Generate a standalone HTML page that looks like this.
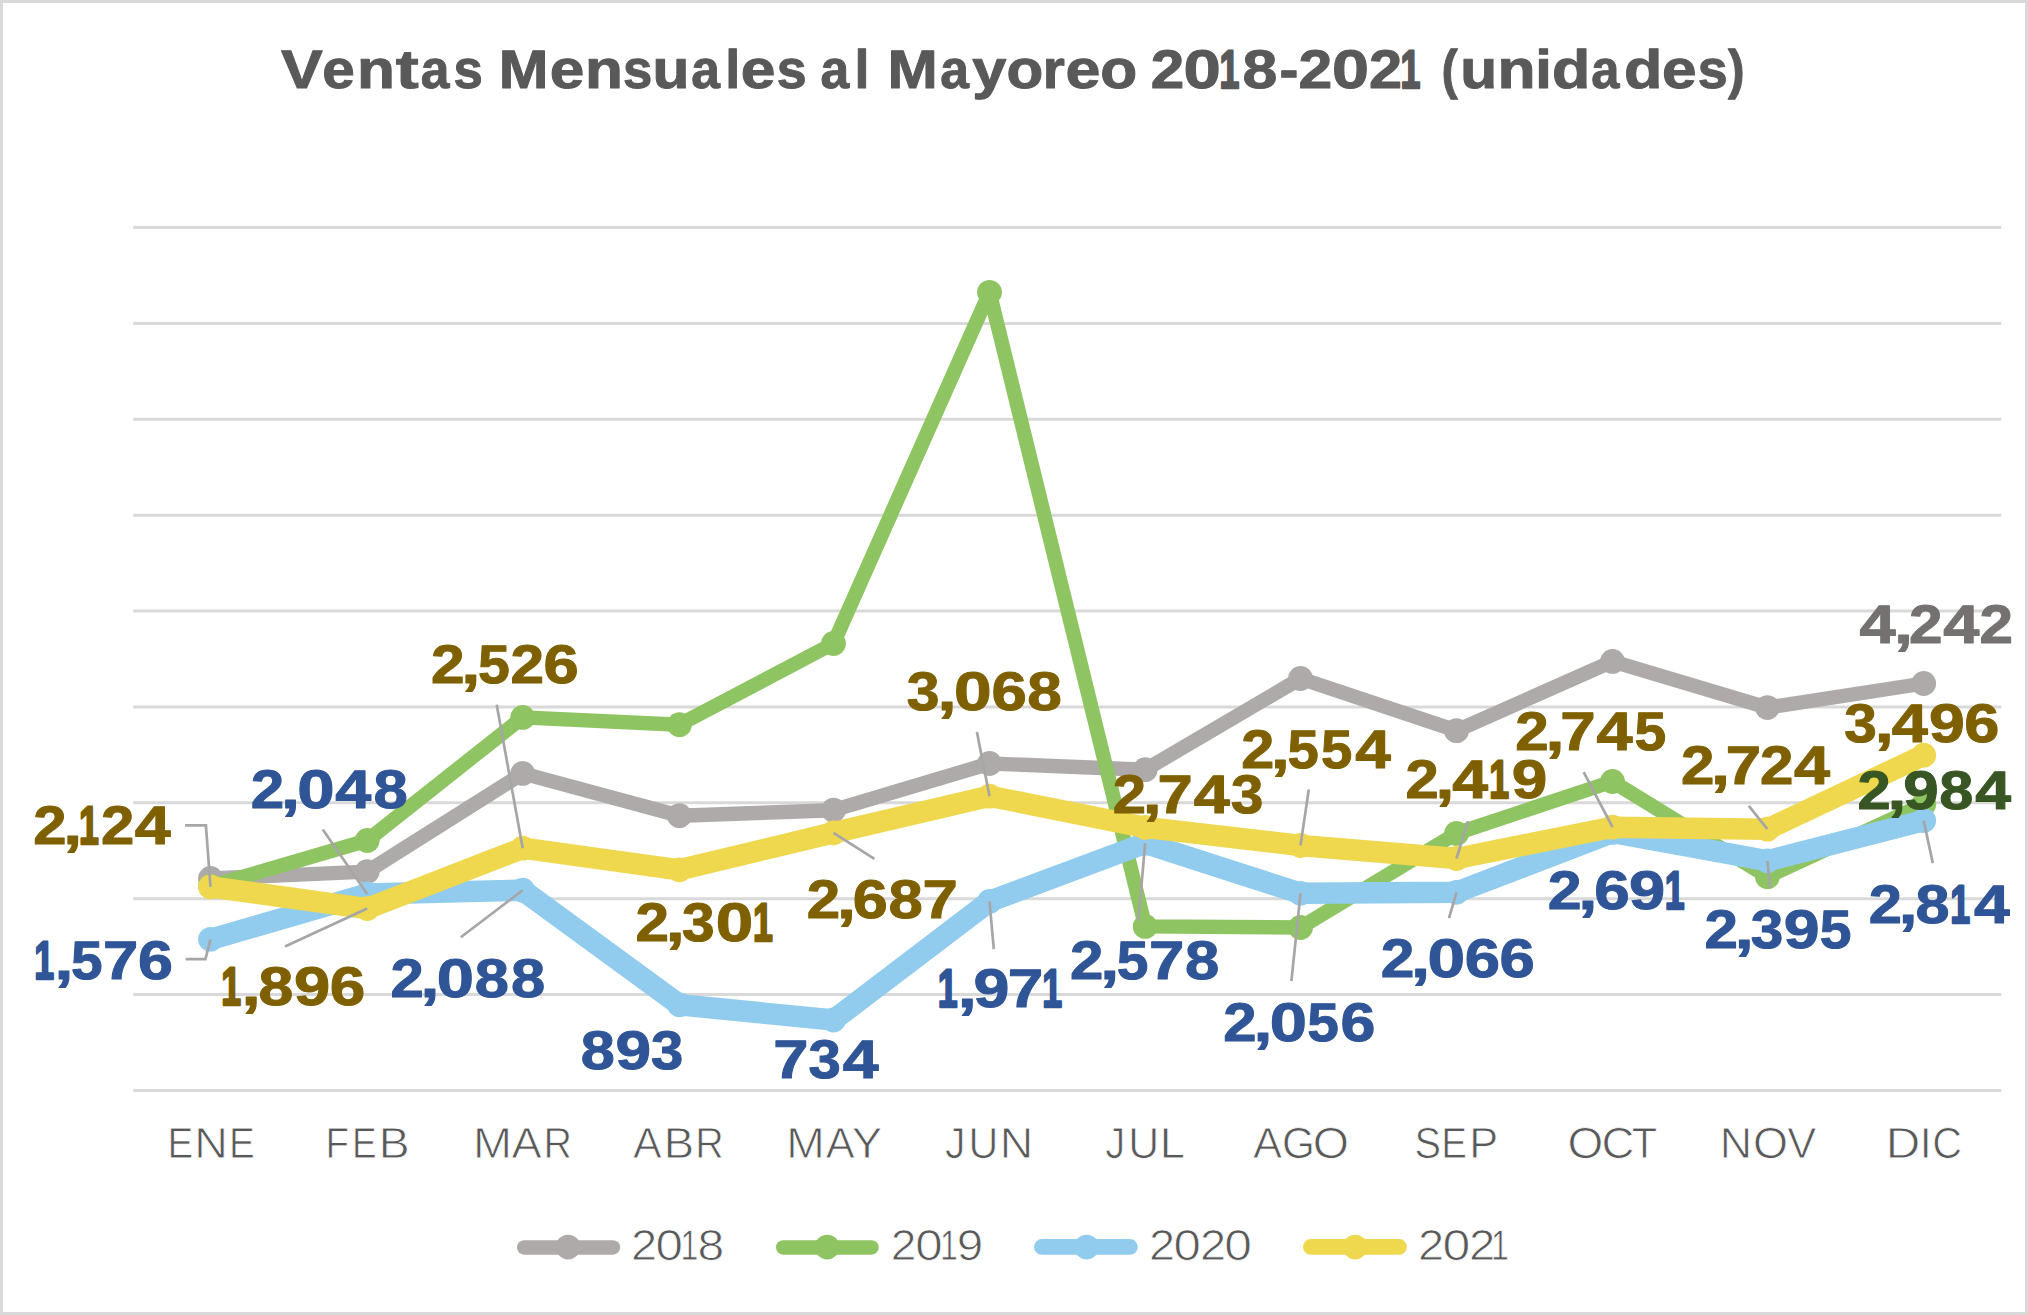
<!DOCTYPE html>
<html lang="es"><head><meta charset="utf-8"><title>Ventas Mensuales al Mayoreo 2018-2021 (unidades)</title>
<style>html,body{margin:0;padding:0;background:#fff}body{width:2028px;height:1315px;overflow:hidden}svg{display:block}text{font-family:"Liberation Sans",sans-serif;text-rendering:geometricPrecision}.b{font-weight:bold}</style>
</head><body>
<svg width="2028" height="1315" viewBox="0 0 2028 1315">
<rect x="0" y="0" width="2028" height="1315" fill="#fff"/>
<rect x="1.5" y="1.5" width="2025" height="1312" fill="none" stroke="#D9D9D9" stroke-width="3"/>
<line x1="133.3" y1="227.50" x2="2001.3" y2="227.50" stroke="#D9D9D9" stroke-width="3"/>
<line x1="133.3" y1="323.38" x2="2001.3" y2="323.38" stroke="#D9D9D9" stroke-width="3"/>
<line x1="133.3" y1="419.26" x2="2001.3" y2="419.26" stroke="#D9D9D9" stroke-width="3"/>
<line x1="133.3" y1="515.14" x2="2001.3" y2="515.14" stroke="#D9D9D9" stroke-width="3"/>
<line x1="133.3" y1="611.02" x2="2001.3" y2="611.02" stroke="#D9D9D9" stroke-width="3"/>
<line x1="133.3" y1="706.90" x2="2001.3" y2="706.90" stroke="#D9D9D9" stroke-width="3"/>
<line x1="133.3" y1="802.78" x2="2001.3" y2="802.78" stroke="#D9D9D9" stroke-width="3"/>
<line x1="133.3" y1="898.66" x2="2001.3" y2="898.66" stroke="#D9D9D9" stroke-width="3"/>
<line x1="133.3" y1="994.54" x2="2001.3" y2="994.54" stroke="#D9D9D9" stroke-width="3"/>
<line x1="133.3" y1="1090.42" x2="2001.3" y2="1090.42" stroke="#D9D9D9" stroke-width="3"/>
<polyline points="210.5,878.5 367.2,871.6 522.7,773.4 679.4,815.7 833.5,810.2 989.5,763.5 1145.2,769.7 1300.5,678.5 1456.5,730.7 1612.5,661.4 1767.4,707.6 1923.7,683.5" fill="none" stroke="#AEAAAA" stroke-width="14.4" stroke-linejoin="round" stroke-linecap="round"/>
<circle cx="210.5" cy="878.5" r="12.4" fill="#AEAAAA"/>
<circle cx="367.2" cy="871.6" r="12.4" fill="#AEAAAA"/>
<circle cx="522.7" cy="773.4" r="12.4" fill="#AEAAAA"/>
<circle cx="679.4" cy="815.7" r="12.4" fill="#AEAAAA"/>
<circle cx="833.5" cy="810.2" r="12.4" fill="#AEAAAA"/>
<circle cx="989.5" cy="763.5" r="12.4" fill="#AEAAAA"/>
<circle cx="1145.2" cy="769.7" r="12.4" fill="#AEAAAA"/>
<circle cx="1300.5" cy="678.5" r="12.4" fill="#AEAAAA"/>
<circle cx="1456.5" cy="730.7" r="12.4" fill="#AEAAAA"/>
<circle cx="1612.5" cy="661.4" r="12.4" fill="#AEAAAA"/>
<circle cx="1767.4" cy="707.6" r="12.4" fill="#AEAAAA"/>
<circle cx="1923.7" cy="683.5" r="12.4" fill="#AEAAAA"/>
<polyline points="210.5,886.2 367.2,840.5 522.7,717.4 679.4,724.7 833.5,643.5 989.5,292.3 1145.2,926.4 1300.5,927.5 1456.5,833.4 1612.5,781.5 1767.4,876.7 1923.7,804.3" fill="none" stroke="#8EC461" stroke-width="14.4" stroke-linejoin="round" stroke-linecap="round"/>
<circle cx="210.5" cy="886.2" r="12.4" fill="#8EC461"/>
<circle cx="367.2" cy="840.5" r="12.4" fill="#8EC461"/>
<circle cx="522.7" cy="717.4" r="12.4" fill="#8EC461"/>
<circle cx="679.4" cy="724.7" r="12.4" fill="#8EC461"/>
<circle cx="833.5" cy="643.5" r="12.4" fill="#8EC461"/>
<circle cx="989.5" cy="292.3" r="12.4" fill="#8EC461"/>
<circle cx="1145.2" cy="926.4" r="12.4" fill="#8EC461"/>
<circle cx="1300.5" cy="927.5" r="12.4" fill="#8EC461"/>
<circle cx="1456.5" cy="833.4" r="12.4" fill="#8EC461"/>
<circle cx="1612.5" cy="781.5" r="12.4" fill="#8EC461"/>
<circle cx="1767.4" cy="876.7" r="12.4" fill="#8EC461"/>
<circle cx="1923.7" cy="804.3" r="12.4" fill="#8EC461"/>
<polyline points="210.5,939.3 367.2,894.0 522.7,890.2 679.4,1004.8 833.5,1020.0 989.5,901.4 1145.2,843.2 1300.5,893.3 1456.5,892.3 1612.5,832.4 1767.4,860.8 1923.7,820.6" fill="none" stroke="#91CCEF" stroke-width="21.5" stroke-linejoin="round" stroke-linecap="round"/>
<circle cx="210.5" cy="939.3" r="12.4" fill="#91CCEF"/>
<circle cx="367.2" cy="894.0" r="12.4" fill="#91CCEF"/>
<circle cx="522.7" cy="890.2" r="12.4" fill="#91CCEF"/>
<circle cx="679.4" cy="1004.8" r="12.4" fill="#91CCEF"/>
<circle cx="833.5" cy="1020.0" r="12.4" fill="#91CCEF"/>
<circle cx="989.5" cy="901.4" r="12.4" fill="#91CCEF"/>
<circle cx="1145.2" cy="843.2" r="12.4" fill="#91CCEF"/>
<circle cx="1300.5" cy="893.3" r="12.4" fill="#91CCEF"/>
<circle cx="1456.5" cy="892.3" r="12.4" fill="#91CCEF"/>
<circle cx="1612.5" cy="832.4" r="12.4" fill="#91CCEF"/>
<circle cx="1767.4" cy="860.8" r="12.4" fill="#91CCEF"/>
<circle cx="1923.7" cy="820.6" r="12.4" fill="#91CCEF"/>
<polyline points="210.5,886.8 367.2,908.6 522.7,848.2 679.4,869.8 833.5,832.8 989.5,796.2 1145.2,827.4 1300.5,845.5 1456.5,858.5 1612.5,827.2 1767.4,829.2 1923.7,755.2" fill="none" stroke="#EFD84E" stroke-width="21.5" stroke-linejoin="round" stroke-linecap="round"/>
<circle cx="210.5" cy="886.8" r="12.4" fill="#EFD84E"/>
<circle cx="367.2" cy="908.6" r="12.4" fill="#EFD84E"/>
<circle cx="522.7" cy="848.2" r="12.4" fill="#EFD84E"/>
<circle cx="679.4" cy="869.8" r="12.4" fill="#EFD84E"/>
<circle cx="833.5" cy="832.8" r="12.4" fill="#EFD84E"/>
<circle cx="989.5" cy="796.2" r="12.4" fill="#EFD84E"/>
<circle cx="1145.2" cy="827.4" r="12.4" fill="#EFD84E"/>
<circle cx="1300.5" cy="845.5" r="12.4" fill="#EFD84E"/>
<circle cx="1456.5" cy="858.5" r="12.4" fill="#EFD84E"/>
<circle cx="1612.5" cy="827.2" r="12.4" fill="#EFD84E"/>
<circle cx="1767.4" cy="829.2" r="12.4" fill="#EFD84E"/>
<circle cx="1923.7" cy="755.2" r="12.4" fill="#EFD84E"/>
<polyline points="185.1,825.3 205.9,825.3 210.5,886.8" fill="none" stroke="#A6A6A6" stroke-width="2.7"/>
<polyline points="185.6,959.2 205.4,959.2 210.5,939.3" fill="none" stroke="#A6A6A6" stroke-width="2.7"/>
<polyline points="322.8,829.5 367.2,894.0" fill="none" stroke="#A6A6A6" stroke-width="2.7"/>
<polyline points="285.0,946.4 367.2,908.6" fill="none" stroke="#A6A6A6" stroke-width="2.7"/>
<polyline points="496.7,704.8 522.7,848.2" fill="none" stroke="#A6A6A6" stroke-width="2.7"/>
<polyline points="460.8,937.3 522.7,890.2" fill="none" stroke="#A6A6A6" stroke-width="2.7"/>
<polyline points="874.4,858.8 833.5,832.8" fill="none" stroke="#A6A6A6" stroke-width="2.7"/>
<polyline points="976.9,731.9 989.5,796.2" fill="none" stroke="#A6A6A6" stroke-width="2.7"/>
<polyline points="993.8,949.2 989.5,901.4" fill="none" stroke="#A6A6A6" stroke-width="2.7"/>
<polyline points="1138.3,921.0 1145.2,843.2" fill="none" stroke="#A6A6A6" stroke-width="2.7"/>
<polyline points="1308.8,789.5 1300.5,845.5" fill="none" stroke="#A6A6A6" stroke-width="2.7"/>
<polyline points="1291.4,981.1 1300.5,893.3" fill="none" stroke="#A6A6A6" stroke-width="2.7"/>
<polyline points="1468.0,821.1 1456.5,858.5" fill="none" stroke="#A6A6A6" stroke-width="2.7"/>
<polyline points="1449.0,918.1 1456.5,892.3" fill="none" stroke="#A6A6A6" stroke-width="2.7"/>
<polyline points="1583.7,772.2 1612.5,827.2" fill="none" stroke="#A6A6A6" stroke-width="2.7"/>
<polyline points="1748.8,805.8 1767.4,829.2" fill="none" stroke="#A6A6A6" stroke-width="2.7"/>
<polyline points="1770.3,887.8 1767.4,860.8" fill="none" stroke="#A6A6A6" stroke-width="2.7"/>
<polyline points="1932.8,863.1 1923.7,820.6" fill="none" stroke="#A6A6A6" stroke-width="2.7"/>
<text class="b" y="844" font-size="54.3" fill="#7F6000" stroke="#7F6000" stroke-width="1" stroke-linejoin="round"><tspan x="33.22" textLength="33.31" lengthAdjust="spacingAndGlyphs">2</tspan><tspan x="63.31" textLength="18.85" lengthAdjust="spacingAndGlyphs">,</tspan><tspan x="79.08" textLength="19.84" lengthAdjust="spacingAndGlyphs" stroke-width="2.4">1</tspan><tspan x="100.93" textLength="33.31" lengthAdjust="spacingAndGlyphs">2</tspan><tspan x="134.74" textLength="35.91" lengthAdjust="spacingAndGlyphs">4</tspan></text>
<text class="b" y="808" font-size="54.3" fill="#2F5597" stroke="#2F5597" stroke-width="1" stroke-linejoin="round"><tspan x="250.72" textLength="33.44" lengthAdjust="spacingAndGlyphs">2</tspan><tspan x="280.91" textLength="18.92" lengthAdjust="spacingAndGlyphs">,</tspan><tspan x="297.20" textLength="37.34" lengthAdjust="spacingAndGlyphs">0</tspan><tspan x="335.39" textLength="36.04" lengthAdjust="spacingAndGlyphs">4</tspan><tspan x="373.61" textLength="34.29" lengthAdjust="spacingAndGlyphs">8</tspan></text>
<text class="b" y="683" font-size="54.3" fill="#7F6000" stroke="#7F6000" stroke-width="1" stroke-linejoin="round"><tspan x="431.01" textLength="33.60" lengthAdjust="spacingAndGlyphs">2</tspan><tspan x="461.34" textLength="19.02" lengthAdjust="spacingAndGlyphs">,</tspan><tspan x="477.97" textLength="31.84" lengthAdjust="spacingAndGlyphs">5</tspan><tspan x="510.63" textLength="33.60" lengthAdjust="spacingAndGlyphs">2</tspan><tspan x="543.59" textLength="35.19" lengthAdjust="spacingAndGlyphs">6</tspan></text>
<text class="b" y="979" font-size="54.3" fill="#2F5597" stroke="#2F5597" stroke-width="1" stroke-linejoin="round"><tspan x="34.29" textLength="19.84" lengthAdjust="spacingAndGlyphs" stroke-width="2.4">1</tspan><tspan x="54.41" textLength="18.87" lengthAdjust="spacingAndGlyphs">,</tspan><tspan x="70.91" textLength="31.60" lengthAdjust="spacingAndGlyphs">5</tspan><tspan x="103.08" textLength="35.28" lengthAdjust="spacingAndGlyphs">7</tspan><tspan x="138.14" textLength="34.93" lengthAdjust="spacingAndGlyphs">6</tspan></text>
<text class="b" y="1005" font-size="54.3" fill="#7F6000" stroke="#7F6000" stroke-width="1" stroke-linejoin="round"><tspan x="221.23" textLength="19.84" lengthAdjust="spacingAndGlyphs" stroke-width="2.4">1</tspan><tspan x="241.51" textLength="19.21" lengthAdjust="spacingAndGlyphs">,</tspan><tspan x="258.64" textLength="34.78" lengthAdjust="spacingAndGlyphs">8</tspan><tspan x="294.07" textLength="36.25" lengthAdjust="spacingAndGlyphs">9</tspan><tspan x="329.79" textLength="35.52" lengthAdjust="spacingAndGlyphs">6</tspan></text>
<text class="b" y="997" font-size="54.3" fill="#2F5597" stroke="#2F5597" stroke-width="1" stroke-linejoin="round"><tspan x="390.42" textLength="33.34" lengthAdjust="spacingAndGlyphs">2</tspan><tspan x="420.53" textLength="18.87" lengthAdjust="spacingAndGlyphs">,</tspan><tspan x="436.78" textLength="37.23" lengthAdjust="spacingAndGlyphs">0</tspan><tspan x="474.78" textLength="34.19" lengthAdjust="spacingAndGlyphs">8</tspan><tspan x="510.90" textLength="34.19" lengthAdjust="spacingAndGlyphs">8</tspan></text>
<text class="b" y="1069" font-size="54.3" fill="#2F5597" stroke="#2F5597" stroke-width="1" stroke-linejoin="round"><tspan x="580.75" textLength="34.08" lengthAdjust="spacingAndGlyphs">8</tspan><tspan x="615.50" textLength="35.53" lengthAdjust="spacingAndGlyphs">9</tspan><tspan x="650.90" textLength="32.30" lengthAdjust="spacingAndGlyphs">3</tspan></text>
<text class="b" y="941" font-size="54.3" fill="#7F6000" stroke="#7F6000" stroke-width="1" stroke-linejoin="round"><tspan x="635.51" textLength="33.54" lengthAdjust="spacingAndGlyphs">2</tspan><tspan x="665.79" textLength="18.98" lengthAdjust="spacingAndGlyphs">,</tspan><tspan x="682.05" textLength="32.59" lengthAdjust="spacingAndGlyphs">3</tspan><tspan x="715.76" textLength="37.45" lengthAdjust="spacingAndGlyphs">0</tspan><tspan x="752.97" textLength="19.84" lengthAdjust="spacingAndGlyphs" stroke-width="2.4">1</tspan></text>
<text class="b" y="918" font-size="54.3" fill="#7F6000" stroke="#7F6000" stroke-width="1" stroke-linejoin="round"><tspan x="806.82" textLength="33.43" lengthAdjust="spacingAndGlyphs">2</tspan><tspan x="837.00" textLength="18.92" lengthAdjust="spacingAndGlyphs">,</tspan><tspan x="852.84" textLength="35.01" lengthAdjust="spacingAndGlyphs">6</tspan><tspan x="888.40" textLength="34.28" lengthAdjust="spacingAndGlyphs">8</tspan><tspan x="922.44" textLength="35.36" lengthAdjust="spacingAndGlyphs">7</tspan></text>
<text class="b" y="710" font-size="54.3" fill="#7F6000" stroke="#7F6000" stroke-width="1" stroke-linejoin="round"><tspan x="906.85" textLength="32.76" lengthAdjust="spacingAndGlyphs">3</tspan><tspan x="937.63" textLength="19.09" lengthAdjust="spacingAndGlyphs">,</tspan><tspan x="954.05" textLength="37.64" lengthAdjust="spacingAndGlyphs">0</tspan><tspan x="991.40" textLength="35.30" lengthAdjust="spacingAndGlyphs">6</tspan><tspan x="1027.24" textLength="34.57" lengthAdjust="spacingAndGlyphs">8</tspan></text>
<text class="b" y="1078" font-size="54.3" fill="#2F5597" stroke="#2F5597" stroke-width="1" stroke-linejoin="round"><tspan x="773.28" textLength="35.20" lengthAdjust="spacingAndGlyphs">7</tspan><tspan x="808.64" textLength="32.35" lengthAdjust="spacingAndGlyphs">3</tspan><tspan x="842.77" textLength="35.88" lengthAdjust="spacingAndGlyphs">4</tspan></text>
<text class="b" y="1007" font-size="54.3" fill="#2F5597" stroke="#2F5597" stroke-width="1" stroke-linejoin="round"><tspan x="937.65" textLength="19.84" lengthAdjust="spacingAndGlyphs" stroke-width="2.4">1</tspan><tspan x="957.84" textLength="19.01" lengthAdjust="spacingAndGlyphs">,</tspan><tspan x="973.53" textLength="35.91" lengthAdjust="spacingAndGlyphs">9</tspan><tspan x="1007.80" textLength="35.53" lengthAdjust="spacingAndGlyphs">7</tspan><tspan x="1042.26" textLength="19.84" lengthAdjust="spacingAndGlyphs" stroke-width="2.4">1</tspan></text>
<text class="b" y="979" font-size="54.3" fill="#2F5597" stroke="#2F5597" stroke-width="1" stroke-linejoin="round"><tspan x="1070.02" textLength="33.41" lengthAdjust="spacingAndGlyphs">2</tspan><tspan x="1100.19" textLength="18.91" lengthAdjust="spacingAndGlyphs">,</tspan><tspan x="1116.73" textLength="31.67" lengthAdjust="spacingAndGlyphs">5</tspan><tspan x="1148.96" textLength="35.34" lengthAdjust="spacingAndGlyphs">7</tspan><tspan x="1185.13" textLength="34.27" lengthAdjust="spacingAndGlyphs">8</tspan></text>
<text class="b" y="813" font-size="54.3" fill="#7F6000" stroke="#7F6000" stroke-width="1" stroke-linejoin="round"><tspan x="1112.72" textLength="33.34" lengthAdjust="spacingAndGlyphs">2</tspan><tspan x="1142.83" textLength="18.86" lengthAdjust="spacingAndGlyphs">,</tspan><tspan x="1157.51" textLength="35.26" lengthAdjust="spacingAndGlyphs">7</tspan><tspan x="1193.67" textLength="35.94" lengthAdjust="spacingAndGlyphs">4</tspan><tspan x="1231.11" textLength="32.40" lengthAdjust="spacingAndGlyphs">3</tspan></text>
<text class="b" y="768" font-size="54.3" fill="#7F6000" stroke="#7F6000" stroke-width="1" stroke-linejoin="round"><tspan x="1241.24" textLength="33.02" lengthAdjust="spacingAndGlyphs">2</tspan><tspan x="1271.07" textLength="18.67" lengthAdjust="spacingAndGlyphs">,</tspan><tspan x="1287.41" textLength="31.29" lengthAdjust="spacingAndGlyphs">5</tspan><tspan x="1321.07" textLength="31.29" lengthAdjust="spacingAndGlyphs">5</tspan><tspan x="1355.15" textLength="35.59" lengthAdjust="spacingAndGlyphs">4</tspan></text>
<text class="b" y="1041" font-size="54.3" fill="#2F5597" stroke="#2F5597" stroke-width="1" stroke-linejoin="round"><tspan x="1223.32" textLength="33.33" lengthAdjust="spacingAndGlyphs">2</tspan><tspan x="1253.42" textLength="18.86" lengthAdjust="spacingAndGlyphs">,</tspan><tspan x="1269.66" textLength="37.22" lengthAdjust="spacingAndGlyphs">0</tspan><tspan x="1307.30" textLength="31.58" lengthAdjust="spacingAndGlyphs">5</tspan><tspan x="1340.57" textLength="34.90" lengthAdjust="spacingAndGlyphs">6</tspan></text>
<text class="b" y="643" font-size="54.3" fill="#767171" stroke="#767171" stroke-width="1" stroke-linejoin="round"><tspan x="1859.42" textLength="36.16" lengthAdjust="spacingAndGlyphs">4</tspan><tspan x="1894.09" textLength="18.99" lengthAdjust="spacingAndGlyphs">,</tspan><tspan x="1909.11" textLength="33.55" lengthAdjust="spacingAndGlyphs">2</tspan><tspan x="1943.15" textLength="36.16" lengthAdjust="spacingAndGlyphs">4</tspan><tspan x="1979.57" textLength="33.55" lengthAdjust="spacingAndGlyphs">2</tspan></text>
<text class="b" y="742" font-size="54.3" fill="#7F6000" stroke="#7F6000" stroke-width="1" stroke-linejoin="round"><tspan x="1844.26" textLength="32.58" lengthAdjust="spacingAndGlyphs">3</tspan><tspan x="1874.88" textLength="18.98" lengthAdjust="spacingAndGlyphs">,</tspan><tspan x="1891.89" textLength="36.14" lengthAdjust="spacingAndGlyphs">4</tspan><tspan x="1928.94" textLength="35.84" lengthAdjust="spacingAndGlyphs">9</tspan><tspan x="1964.27" textLength="35.11" lengthAdjust="spacingAndGlyphs">6</tspan></text>
<text class="b" y="809" font-size="54.3" fill="#375623" stroke="#375623" stroke-width="1" stroke-linejoin="round"><tspan x="1857.63" textLength="33.21" lengthAdjust="spacingAndGlyphs">2</tspan><tspan x="1887.63" textLength="18.79" lengthAdjust="spacingAndGlyphs">,</tspan><tspan x="1903.15" textLength="35.50" lengthAdjust="spacingAndGlyphs">9</tspan><tspan x="1939.19" textLength="34.06" lengthAdjust="spacingAndGlyphs">8</tspan><tspan x="1975.25" textLength="35.80" lengthAdjust="spacingAndGlyphs">4</tspan></text>
<text class="b" y="923" font-size="54.3" fill="#2F5597" stroke="#2F5597" stroke-width="1" stroke-linejoin="round"><tspan x="1868.73" textLength="33.17" lengthAdjust="spacingAndGlyphs">2</tspan><tspan x="1898.70" textLength="18.76" lengthAdjust="spacingAndGlyphs">,</tspan><tspan x="1915.46" textLength="34.02" lengthAdjust="spacingAndGlyphs">8</tspan><tspan x="1950.31" textLength="19.84" lengthAdjust="spacingAndGlyphs" stroke-width="2.4">1</tspan><tspan x="1974.08" textLength="35.76" lengthAdjust="spacingAndGlyphs">4</tspan></text>
<text class="b" y="750" font-size="54.3" fill="#7F6000" stroke="#7F6000" stroke-width="1" stroke-linejoin="round"><tspan x="1515.31" textLength="33.49" lengthAdjust="spacingAndGlyphs">2</tspan><tspan x="1545.55" textLength="18.95" lengthAdjust="spacingAndGlyphs">,</tspan><tspan x="1560.29" textLength="35.42" lengthAdjust="spacingAndGlyphs">7</tspan><tspan x="1596.62" textLength="36.10" lengthAdjust="spacingAndGlyphs">4</tspan><tspan x="1634.55" textLength="31.73" lengthAdjust="spacingAndGlyphs">5</tspan></text>
<text class="b" y="784" font-size="54.3" fill="#7F6000" stroke="#7F6000" stroke-width="1" stroke-linejoin="round"><tspan x="1680.92" textLength="33.43" lengthAdjust="spacingAndGlyphs">2</tspan><tspan x="1711.10" textLength="18.92" lengthAdjust="spacingAndGlyphs">,</tspan><tspan x="1725.82" textLength="35.36" lengthAdjust="spacingAndGlyphs">7</tspan><tspan x="1760.09" textLength="33.43" lengthAdjust="spacingAndGlyphs">2</tspan><tspan x="1794.01" textLength="36.04" lengthAdjust="spacingAndGlyphs">4</tspan></text>
<text class="b" y="798" font-size="54.3" fill="#7F6000" stroke="#7F6000" stroke-width="1" stroke-linejoin="round"><tspan x="1405.43" textLength="33.24" lengthAdjust="spacingAndGlyphs">2</tspan><tspan x="1435.45" textLength="18.81" lengthAdjust="spacingAndGlyphs">,</tspan><tspan x="1452.33" textLength="35.84" lengthAdjust="spacingAndGlyphs">4</tspan><tspan x="1489.26" textLength="19.84" lengthAdjust="spacingAndGlyphs" stroke-width="2.4">1</tspan><tspan x="1511.73" textLength="35.54" lengthAdjust="spacingAndGlyphs">9</tspan></text>
<text class="b" y="909" font-size="54.3" fill="#2F5597" stroke="#2F5597" stroke-width="1" stroke-linejoin="round"><tspan x="1547.69" textLength="33.85" lengthAdjust="spacingAndGlyphs">2</tspan><tspan x="1578.24" textLength="19.17" lengthAdjust="spacingAndGlyphs">,</tspan><tspan x="1594.28" textLength="35.45" lengthAdjust="spacingAndGlyphs">6</tspan><tspan x="1628.99" textLength="36.19" lengthAdjust="spacingAndGlyphs">9</tspan><tspan x="1664.79" textLength="19.84" lengthAdjust="spacingAndGlyphs" stroke-width="2.4">1</tspan></text>
<text class="b" y="948" font-size="54.3" fill="#2F5597" stroke="#2F5597" stroke-width="1" stroke-linejoin="round"><tspan x="1704.41" textLength="33.48" lengthAdjust="spacingAndGlyphs">2</tspan><tspan x="1734.65" textLength="18.95" lengthAdjust="spacingAndGlyphs">,</tspan><tspan x="1750.88" textLength="32.54" lengthAdjust="spacingAndGlyphs">3</tspan><tspan x="1783.87" textLength="35.80" lengthAdjust="spacingAndGlyphs">9</tspan><tspan x="1819.86" textLength="31.73" lengthAdjust="spacingAndGlyphs">5</tspan></text>
<text class="b" y="977" font-size="54.3" fill="#2F5597" stroke="#2F5597" stroke-width="1" stroke-linejoin="round"><tspan x="1380.70" textLength="33.68" lengthAdjust="spacingAndGlyphs">2</tspan><tspan x="1411.11" textLength="19.07" lengthAdjust="spacingAndGlyphs">,</tspan><tspan x="1427.52" textLength="37.62" lengthAdjust="spacingAndGlyphs">0</tspan><tspan x="1464.84" textLength="35.28" lengthAdjust="spacingAndGlyphs">6</tspan><tspan x="1499.61" textLength="35.28" lengthAdjust="spacingAndGlyphs">6</tspan></text>
<text class="b" y="88" font-size="54.3" fill="#595959" stroke="#595959" stroke-width="1" stroke-linejoin="round"><tspan x="280.97" textLength="41.76" lengthAdjust="spacingAndGlyphs">V</tspan><tspan x="322.32" textLength="32.48" lengthAdjust="spacingAndGlyphs">e</tspan><tspan x="356.90" textLength="37.95" lengthAdjust="spacingAndGlyphs">n</tspan><tspan x="395.76" textLength="22.99" lengthAdjust="spacingAndGlyphs">t</tspan><tspan x="420.69" textLength="28.68" lengthAdjust="spacingAndGlyphs">a</tspan><tspan x="453.55" textLength="29.32" lengthAdjust="spacingAndGlyphs">s</tspan> <tspan x="498.71" textLength="49.68" lengthAdjust="spacingAndGlyphs">M</tspan><tspan x="549.77" textLength="34.55" lengthAdjust="spacingAndGlyphs">e</tspan><tspan x="585.00" textLength="37.95" lengthAdjust="spacingAndGlyphs">n</tspan><tspan x="622.95" textLength="29.32" lengthAdjust="spacingAndGlyphs">s</tspan><tspan x="652.45" textLength="36.94" lengthAdjust="spacingAndGlyphs">u</tspan><tspan x="691.19" textLength="28.68" lengthAdjust="spacingAndGlyphs">a</tspan><tspan x="725.33" textLength="14.98" lengthAdjust="spacingAndGlyphs">l</tspan><tspan x="740.87" textLength="34.67" lengthAdjust="spacingAndGlyphs">e</tspan><tspan x="776.71" textLength="29.89" lengthAdjust="spacingAndGlyphs">s</tspan> <tspan x="820.59" textLength="28.68" lengthAdjust="spacingAndGlyphs">a</tspan><tspan x="854.43" textLength="14.98" lengthAdjust="spacingAndGlyphs">l</tspan> <tspan x="887.46" textLength="50.27" lengthAdjust="spacingAndGlyphs">M</tspan><tspan x="940.19" textLength="28.68" lengthAdjust="spacingAndGlyphs">a</tspan><tspan x="972.32" textLength="34.11" lengthAdjust="spacingAndGlyphs">y</tspan><tspan x="1006.45" textLength="36.69" lengthAdjust="spacingAndGlyphs">o</tspan><tspan x="1042.76" textLength="22.10" lengthAdjust="spacingAndGlyphs">r</tspan><tspan x="1065.55" textLength="34.90" lengthAdjust="spacingAndGlyphs">e</tspan><tspan x="1100.34" textLength="36.92" lengthAdjust="spacingAndGlyphs">o</tspan> <tspan x="1150.71" textLength="33.50" lengthAdjust="spacingAndGlyphs">2</tspan><tspan x="1183.45" textLength="37.30" lengthAdjust="spacingAndGlyphs">0</tspan><tspan x="1219.60" textLength="19.84" lengthAdjust="spacingAndGlyphs" stroke-width="2.4">1</tspan><tspan x="1242.41" textLength="34.81" lengthAdjust="spacingAndGlyphs">8</tspan><tspan x="1279.58" textLength="18.89" lengthAdjust="spacingAndGlyphs">-</tspan><tspan x="1298.50" textLength="33.73" lengthAdjust="spacingAndGlyphs">2</tspan><tspan x="1331.97" textLength="36.95" lengthAdjust="spacingAndGlyphs">0</tspan><tspan x="1368.93" textLength="33.15" lengthAdjust="spacingAndGlyphs">2</tspan><tspan x="1400.55" textLength="19.84" lengthAdjust="spacingAndGlyphs" stroke-width="2.4">1</tspan> <tspan x="1441.46" textLength="16.28" lengthAdjust="spacingAndGlyphs">(</tspan><tspan x="1460.25" textLength="36.94" lengthAdjust="spacingAndGlyphs">u</tspan><tspan x="1497.59" textLength="38.07" lengthAdjust="spacingAndGlyphs">n</tspan><tspan x="1535.33" textLength="16.60" lengthAdjust="spacingAndGlyphs">i</tspan><tspan x="1552.03" textLength="38.31" lengthAdjust="spacingAndGlyphs">d</tspan><tspan x="1591.32" textLength="28.16" lengthAdjust="spacingAndGlyphs">a</tspan><tspan x="1624.02" textLength="38.43" lengthAdjust="spacingAndGlyphs">d</tspan><tspan x="1661.97" textLength="34.55" lengthAdjust="spacingAndGlyphs">e</tspan><tspan x="1697.71" textLength="29.89" lengthAdjust="spacingAndGlyphs">s</tspan><tspan x="1728.05" textLength="16.64" lengthAdjust="spacingAndGlyphs">)</tspan></text>
<text y="1158" font-size="43.6" fill="#595959" stroke="#fff" stroke-width="0.8" stroke-linejoin="round"><tspan x="167.40" textLength="25.73" lengthAdjust="spacingAndGlyphs">E</tspan><tspan x="194.38" textLength="33.61" lengthAdjust="spacingAndGlyphs">N</tspan><tspan x="228.94" textLength="25.72" lengthAdjust="spacingAndGlyphs">E</tspan></text>
<text y="1158" font-size="43.6" fill="#595959" stroke="#fff" stroke-width="0.8" stroke-linejoin="round"><tspan x="325.44" textLength="23.50" lengthAdjust="spacingAndGlyphs">F</tspan><tspan x="351.97" textLength="24.61" lengthAdjust="spacingAndGlyphs">E</tspan><tspan x="378.81" textLength="30.83" lengthAdjust="spacingAndGlyphs">B</tspan></text>
<text y="1158" font-size="43.6" fill="#595959" stroke="#fff" stroke-width="0.8" stroke-linejoin="round"><tspan x="473.06" textLength="38.98" lengthAdjust="spacingAndGlyphs">M</tspan><tspan x="511.51" textLength="30.28" lengthAdjust="spacingAndGlyphs">A</tspan><tspan x="543.57" textLength="28.46" lengthAdjust="spacingAndGlyphs">R</tspan></text>
<text y="1158" font-size="43.6" fill="#595959" stroke="#fff" stroke-width="0.8" stroke-linejoin="round"><tspan x="633.02" textLength="28.67" lengthAdjust="spacingAndGlyphs">A</tspan><tspan x="663.77" textLength="30.33" lengthAdjust="spacingAndGlyphs">B</tspan><tspan x="695.27" textLength="28.46" lengthAdjust="spacingAndGlyphs">R</tspan></text>
<text y="1158" font-size="43.6" fill="#595959" stroke="#fff" stroke-width="0.8" stroke-linejoin="round"><tspan x="786.31" textLength="38.48" lengthAdjust="spacingAndGlyphs">M</tspan><tspan x="825.72" textLength="28.97" lengthAdjust="spacingAndGlyphs">A</tspan><tspan x="851.89" textLength="30.51" lengthAdjust="spacingAndGlyphs">Y</tspan></text>
<text y="1158" font-size="43.6" fill="#595959" stroke="#fff" stroke-width="0.8" stroke-linejoin="round"><tspan x="944.96" textLength="20.48" lengthAdjust="spacingAndGlyphs">J</tspan><tspan x="968.42" textLength="29.76" lengthAdjust="spacingAndGlyphs">U</tspan><tspan x="999.70" textLength="33.48" lengthAdjust="spacingAndGlyphs">N</tspan></text>
<text y="1158" font-size="43.6" fill="#595959" stroke="#fff" stroke-width="0.8" stroke-linejoin="round"><tspan x="1105.28" textLength="19.99" lengthAdjust="spacingAndGlyphs">J</tspan><tspan x="1128.20" textLength="30.90" lengthAdjust="spacingAndGlyphs">U</tspan><tspan x="1159.68" textLength="25.23" lengthAdjust="spacingAndGlyphs">L</tspan></text>
<text y="1158" font-size="43.6" fill="#595959" stroke="#fff" stroke-width="0.8" stroke-linejoin="round"><tspan x="1253.01" textLength="29.07" lengthAdjust="spacingAndGlyphs">A</tspan><tspan x="1281.97" textLength="32.88" lengthAdjust="spacingAndGlyphs">G</tspan><tspan x="1312.89" textLength="36.24" lengthAdjust="spacingAndGlyphs">O</tspan></text>
<text y="1158" font-size="43.6" fill="#595959" stroke="#fff" stroke-width="0.8" stroke-linejoin="round"><tspan x="1414.59" textLength="26.53" lengthAdjust="spacingAndGlyphs">S</tspan><tspan x="1441.34" textLength="25.72" lengthAdjust="spacingAndGlyphs">E</tspan><tspan x="1469.34" textLength="28.95" lengthAdjust="spacingAndGlyphs">P</tspan></text>
<text y="1158" font-size="43.6" fill="#595959" stroke="#fff" stroke-width="0.8" stroke-linejoin="round"><tspan x="1567.62" textLength="35.78" lengthAdjust="spacingAndGlyphs">O</tspan><tspan x="1601.49" textLength="32.84" lengthAdjust="spacingAndGlyphs">C</tspan><tspan x="1631.67" textLength="25.39" lengthAdjust="spacingAndGlyphs">T</tspan></text>
<text y="1158" font-size="43.6" fill="#595959" stroke="#fff" stroke-width="0.8" stroke-linejoin="round"><tspan x="1719.73" textLength="32.32" lengthAdjust="spacingAndGlyphs">N</tspan><tspan x="1752.97" textLength="34.98" lengthAdjust="spacingAndGlyphs">O</tspan><tspan x="1787.21" textLength="28.98" lengthAdjust="spacingAndGlyphs">V</tspan></text>
<text y="1158" font-size="43.6" fill="#595959" stroke="#fff" stroke-width="0.8" stroke-linejoin="round"><tspan x="1885.68" textLength="34.51" lengthAdjust="spacingAndGlyphs">D</tspan><tspan x="1919.64" textLength="11.92" lengthAdjust="spacingAndGlyphs">I</tspan><tspan x="1932.31" textLength="29.76" lengthAdjust="spacingAndGlyphs">C</tspan></text>
<line x1="524.2" y1="1247.4" x2="612.9" y2="1247.4" stroke="#AEAAAA" stroke-width="14.5" stroke-linecap="round"/>
<circle cx="568.1" cy="1247.1" r="12.4" fill="#AEAAAA"/>
<text y="1260" font-size="43" fill="#595959" stroke="#fff" stroke-width="0.8" stroke-linejoin="round"><tspan x="630.94" textLength="26.12" lengthAdjust="spacingAndGlyphs">2</tspan><tspan x="655.47" textLength="27.46" lengthAdjust="spacingAndGlyphs">0</tspan><tspan x="680.51" textLength="17.80" lengthAdjust="spacingAndGlyphs">1</tspan><tspan x="697.62" textLength="26.67" lengthAdjust="spacingAndGlyphs">8</tspan></text>
<line x1="783.2" y1="1247.4" x2="871.5" y2="1247.4" stroke="#8EC461" stroke-width="14.5" stroke-linecap="round"/>
<circle cx="827.2" cy="1247.1" r="12.4" fill="#8EC461"/>
<text y="1260" font-size="43" fill="#595959" stroke="#fff" stroke-width="0.8" stroke-linejoin="round"><tspan x="890.78" textLength="25.64" lengthAdjust="spacingAndGlyphs">2</tspan><tspan x="915.17" textLength="27.46" lengthAdjust="spacingAndGlyphs">0</tspan><tspan x="940.11" textLength="17.80" lengthAdjust="spacingAndGlyphs">1</tspan><tspan x="956.67" textLength="26.49" lengthAdjust="spacingAndGlyphs">9</tspan></text>
<line x1="1041.8" y1="1246.9" x2="1130.0" y2="1246.9" stroke="#91CCEF" stroke-width="15.6" stroke-linecap="round"/>
<circle cx="1086.6" cy="1247.1" r="12.4" fill="#91CCEF"/>
<text y="1260" font-size="43" fill="#595959" stroke="#fff" stroke-width="0.8" stroke-linejoin="round"><tspan x="1148.94" textLength="26.12" lengthAdjust="spacingAndGlyphs">2</tspan><tspan x="1173.48" textLength="27.34" lengthAdjust="spacingAndGlyphs">0</tspan><tspan x="1199.94" textLength="26.12" lengthAdjust="spacingAndGlyphs">2</tspan><tspan x="1224.16" textLength="27.69" lengthAdjust="spacingAndGlyphs">0</tspan></text>
<line x1="1310.8" y1="1246.9" x2="1399.1" y2="1246.9" stroke="#EFD84E" stroke-width="15.6" stroke-linecap="round"/>
<circle cx="1355.1" cy="1247.1" r="12.4" fill="#EFD84E"/>
<text y="1260" font-size="43" fill="#595959" stroke="#fff" stroke-width="0.8" stroke-linejoin="round"><tspan x="1418.04" textLength="26.12" lengthAdjust="spacingAndGlyphs">2</tspan><tspan x="1442.45" textLength="27.81" lengthAdjust="spacingAndGlyphs">0</tspan><tspan x="1468.93" textLength="26.25" lengthAdjust="spacingAndGlyphs">2</tspan><tspan x="1491.06" textLength="17.80" lengthAdjust="spacingAndGlyphs">1</tspan></text>
</svg>
</body></html>
